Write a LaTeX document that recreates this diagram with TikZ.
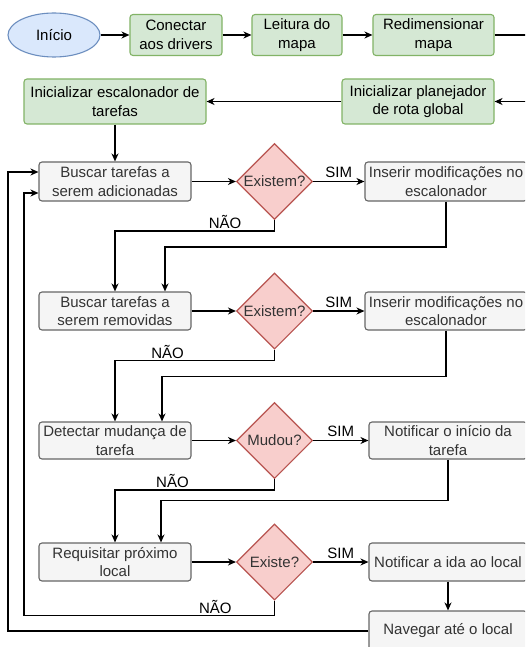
\documentclass[tikz,border=0pt]{standalone}
\usepackage{fontspec}
\setmainfont{Liberation Sans}
\usetikzlibrary{shapes.geometric,arrows.meta}

\definecolor{bluefill}{HTML}{DAE8FC}
\definecolor{blueline}{HTML}{6C8EBF}
\definecolor{greenfill}{HTML}{D5E8D4}
\definecolor{greenline}{HTML}{82B366}
\definecolor{redfill}{HTML}{F8CECC}
\definecolor{redline}{HTML}{B85450}
\definecolor{grayfill}{HTML}{F5F5F5}
\definecolor{grayline}{HTML}{666666}
\definecolor{graytext}{HTML}{333333}

\tikzset{
  base/.style={font=\fontsize{15}{18.5}\selectfont, align=center, line width=1.1pt, inner sep=0pt},
  startnode/.style={base, ellipse, draw=blueline, fill=bluefill, minimum width=92pt, minimum height=44pt},
  initbox/.style={base, rectangle, rounded corners=3pt, draw=greenline, fill=greenfill},
  taskbox/.style={base, rectangle, rounded corners=3pt, draw=grayline, fill=grayfill, text=graytext},
  decision/.style={base, diamond, aspect=1, draw=redline, fill=redfill, text=graytext,
                   minimum width=76pt, minimum height=76pt},
  flow/.style={line width=1.2pt, -{Stealth[length=8pt,width=7pt,inset=2.5pt]}},
  edgelabel/.style={font=\fontsize{15}{18}\selectfont, inner sep=0pt},
}

\begin{document}
\begin{tikzpicture}[x=1pt, y=-1pt]
  \useasboundingbox (0,0) rectangle (525,647);
  \fill[white] (0,0) rectangle (525,647);
  \clip (0,0) rectangle (525,647);

  % initialisation row
  \node[startnode] (inicio) at (54,35) {Início};
  \node[initbox, minimum width=92pt, minimum height=41pt] (conectar) at (176,35) {Conectar\\aos drivers};
  \node[initbox, minimum width=90pt, minimum height=41pt] (leitura) at (297,35) {Leitura do\\mapa};
  \node[initbox, minimum width=121pt, minimum height=41pt] (redim) at (433.5,35) {Redimensionar\\mapa};
  \node[initbox, minimum width=152pt, minimum height=45pt] (planej) at (418,101.5) {Inicializar planejador\\de rota global};
  \node[initbox, minimum width=182pt, minimum height=45pt] (escal) at (115,101.5) {Inicializar escalonador de\\tarefas};
  \coordinate (offright) at (545,35);

  % task loop
  \node[taskbox, minimum width=152pt, minimum height=39pt] (buscarA) at (115,181.5) {Buscar tarefas a\\serem adicionadas};
  \node[decision] (decA) at (274.5,181.5) {Existem?};
  \node[taskbox, minimum width=162pt, minimum height=39pt] (inserirA) at (446,181.5) {Inserir modificações no\\escalonador};

  \node[taskbox, minimum width=152pt, minimum height=38pt] (buscarB) at (115,311) {Buscar tarefas a\\serem removidas};
  \node[decision] (decB) at (274.5,311) {Existem?};
  \node[taskbox, minimum width=162pt, minimum height=38pt] (inserirB) at (446,311) {Inserir modificações no\\escalonador};

  \node[taskbox, minimum width=152pt, minimum height=37pt] (detectar) at (115,440.5) {Detectar mudança de\\tarefa};
  \node[decision] (decC) at (274.5,440.5) {Mudou?};
  \node[taskbox, minimum width=158pt, minimum height=37pt] (notifA) at (448,440.5) {Notificar o início da\\tarefa};

  \node[taskbox, minimum width=152pt, minimum height=38pt] (requisitar) at (115,562) {Requisitar próximo\\local};
  \node[decision] (decD) at (274.5,562) {Existe?};
  \node[taskbox, minimum width=158pt, minimum height=38pt] (notifB) at (448,562) {Notificar a ida ao local};
  \node[taskbox, minimum width=158pt, minimum height=40pt] (navegar) at (448,631) {Navegar até o local};

  \coordinate (innerloop) at (24,193);
  \coordinate (outerloop) at (8,172);

  % initialisation connectors
  \draw[flow] (inicio) -- (conectar);
  \draw[flow] (conectar) -- (leitura);
  \draw[flow] (leitura) -- (redim);
  \draw[flow] (redim) -- (offright) |- (planej);
  \draw[flow] (planej) -- (escal);
  \draw[flow] (escal) -- (buscarA);

  % added tasks
  \draw[flow] (buscarA) -- (decA);
  \draw[flow] (decA) -- node[edgelabel, above=3pt] {SIM} (inserirA);
  \draw[flow] (decA.south) -- ++(0,11) coordinate (nA)
      -- node[edgelabel, pos=0.31, above=1.5pt] {NÃO} (nA -| buscarB) -- (buscarB);
  \draw[flow] (inserirA.south) -- ++(0,45.5) -| ([xshift=50pt]buscarB.north);

  % removed tasks
  \draw[flow] (buscarB) -- (decB);
  \draw[flow] (decB) -- node[edgelabel, above=3pt] {SIM} (inserirB);
  \draw[flow] (decB.south) -- ++(0,11) coordinate (nB)
      -- node[edgelabel, pos=0.67, above=1.5pt] {NÃO} (nB -| detectar) -- (detectar);
  \draw[flow] (inserirB.south) -- ++(0,46) -| ([xshift=47pt]detectar.north);

  % task change
  \draw[flow] (detectar) -- (decC);
  \draw[flow] (decC) -- node[edgelabel, above=3pt] {SIM} (notifA);
  \draw[flow] (decC.south) -- ++(0,11) coordinate (nC)
      -- node[edgelabel, pos=0.64, above=1.5pt] {NÃO} (nC -| requisitar) -- (requisitar);
  \draw[flow] (notifA.south) -- ++(0,41) -| ([xshift=46pt]requisitar.north);

  % next location
  \draw[flow] (requisitar) -- (decD);
  \draw[flow] (decD) -- node[edgelabel, above=3pt] {SIM} (notifB);
  \draw[flow] (notifB) -- (navegar);
  \draw[flow] (decD.south) -- ++(0,15) coordinate (nD)
      -- node[edgelabel, pos=0.236, above=1.5pt] {NÃO} (nD -| innerloop)
      -- (innerloop) -- (innerloop -| buscarA.west);
  \draw[flow] (navegar.west) -| (outerloop) -- (outerloop -| buscarA.west);
\end{tikzpicture}
\end{document}
